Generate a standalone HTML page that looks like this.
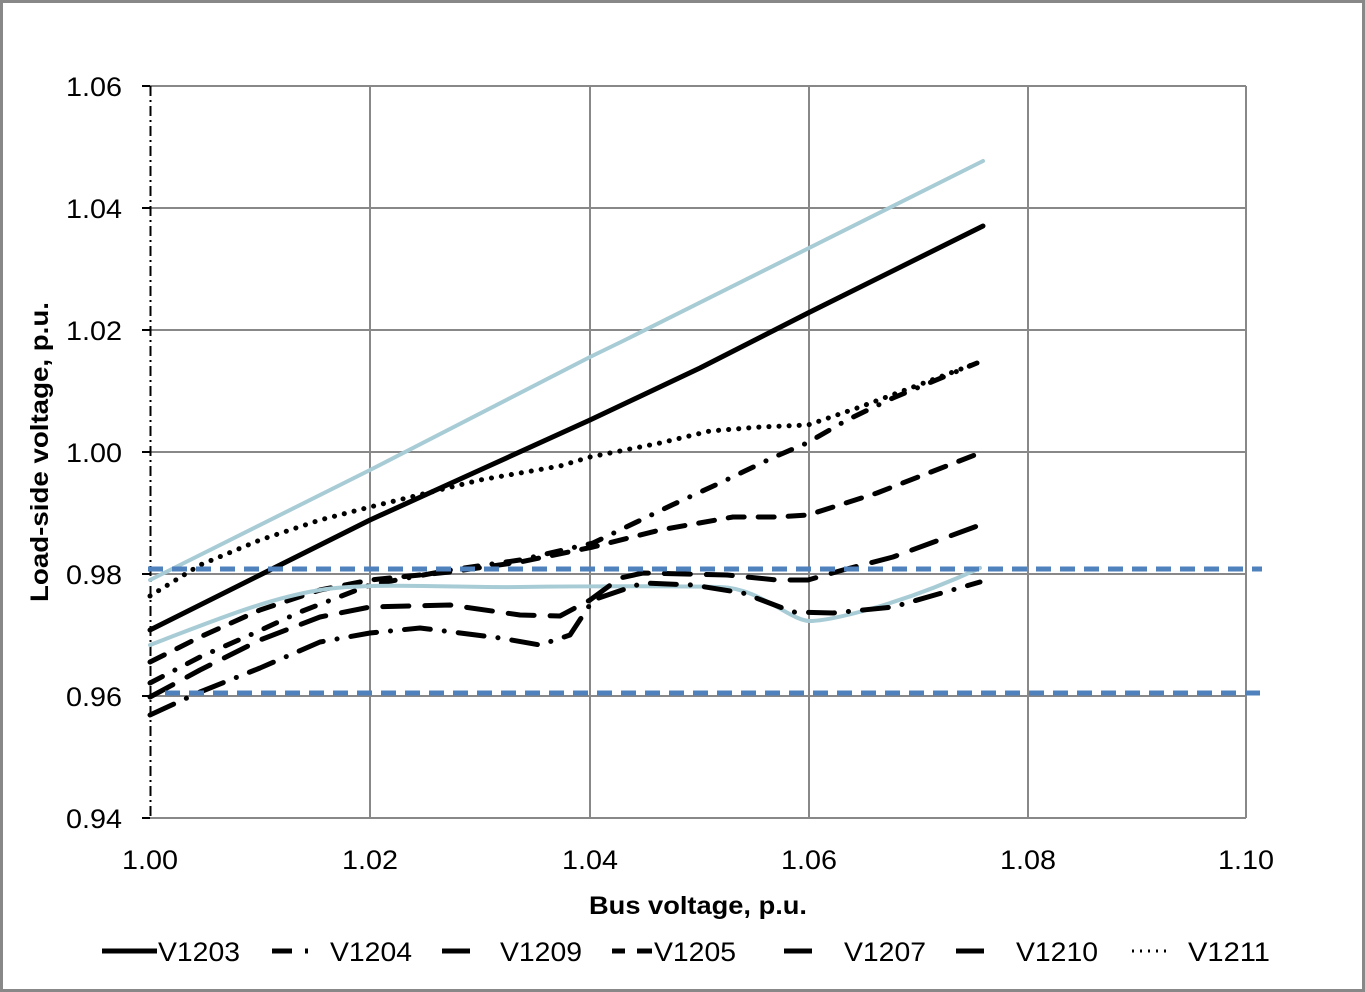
<!DOCTYPE html>
<html><head><meta charset="utf-8"><style>
html,body{margin:0;padding:0;background:#fff;}
svg{display:block;}
text{font-family:"Liberation Sans",sans-serif;fill:#000;}
</style></head><body>
<svg width="1365" height="992" viewBox="0 0 1365 992" xmlns="http://www.w3.org/2000/svg">
<rect x="1.5" y="1.5" width="1362" height="989" fill="#fff" stroke="#888" stroke-width="3"/>
<g stroke="#888" stroke-width="2">
<line x1="150" y1="86" x2="1246" y2="86"/>
<line x1="150" y1="208" x2="1246" y2="208"/>
<line x1="150" y1="330" x2="1246" y2="330"/>
<line x1="150" y1="452" x2="1246" y2="452"/>
<line x1="150" y1="574" x2="1246" y2="574"/>
<line x1="150" y1="696" x2="1246" y2="696"/>
<line x1="150" y1="818" x2="1246" y2="818"/>
<line x1="370" y1="86" x2="370" y2="818"/>
<line x1="590" y1="86" x2="590" y2="818"/>
<line x1="809" y1="86" x2="809" y2="818"/>
<line x1="1028" y1="86" x2="1028" y2="818"/>
<line x1="1246" y1="86" x2="1246" y2="818"/>
</g>
<line x1="150.5" y1="86" x2="150.5" y2="818" stroke="#000" stroke-width="2" stroke-dasharray="10,4,2,4"/>
<g stroke="#000" stroke-width="2">
<line x1="142" y1="86" x2="150" y2="86"/><line x1="142" y1="208" x2="150" y2="208"/>
<line x1="142" y1="330" x2="150" y2="330"/><line x1="142" y1="452" x2="150" y2="452"/>
<line x1="142" y1="574" x2="150" y2="574"/><line x1="142" y1="696" x2="150" y2="696"/>
<line x1="142" y1="818" x2="150" y2="818"/>
</g>
<g font-size="27" text-anchor="end">
<text x="122" y="96" textLength="56" lengthAdjust="spacingAndGlyphs">1.06</text>
<text x="122" y="218" textLength="56" lengthAdjust="spacingAndGlyphs">1.04</text>
<text x="122" y="340" textLength="56" lengthAdjust="spacingAndGlyphs">1.02</text>
<text x="122" y="462" textLength="56" lengthAdjust="spacingAndGlyphs">1.00</text>
<text x="122" y="584" textLength="56" lengthAdjust="spacingAndGlyphs">0.98</text>
<text x="122" y="706" textLength="56" lengthAdjust="spacingAndGlyphs">0.96</text>
<text x="122" y="828" textLength="56" lengthAdjust="spacingAndGlyphs">0.94</text>
</g>
<g font-size="27" text-anchor="middle">
<text x="150" y="869" textLength="56" lengthAdjust="spacingAndGlyphs">1.00</text>
<text x="370" y="869" textLength="56" lengthAdjust="spacingAndGlyphs">1.02</text>
<text x="590" y="869" textLength="56" lengthAdjust="spacingAndGlyphs">1.04</text>
<text x="809" y="869" textLength="56" lengthAdjust="spacingAndGlyphs">1.06</text>
<text x="1028" y="869" textLength="56" lengthAdjust="spacingAndGlyphs">1.08</text>
<text x="1246" y="869" textLength="56" lengthAdjust="spacingAndGlyphs">1.10</text>
</g>
<text x="698" y="914" font-size="25" font-weight="bold" text-anchor="middle" textLength="218" lengthAdjust="spacingAndGlyphs">Bus voltage, p.u.</text>
<text transform="translate(48,452) rotate(-90)" font-size="25" font-weight="bold" text-anchor="middle" textLength="300" lengthAdjust="spacingAndGlyphs">Load-side voltage, p.u.</text>

<g fill="none" stroke-linecap="round" stroke-linejoin="round">
<polyline stroke="#a8ccd6" stroke-width="4" points="150,580 370,470 590,357 625,340 983,161"/>
<polyline stroke="#000" stroke-width="5" points="150,630 260,575 370,520 480,470 590,420 700,368 808,313 983,226"/>
<polyline stroke="#000" stroke-width="5" stroke-dasharray="0.1,10" points="150,596 200,565 260,540 320,520 370,507 480,480 560,466 590,457 660,443 710,431 760,427 808,425 860,407 977,363"/>
<polyline stroke="#000" stroke-width="5" stroke-dasharray="14,14,0.1,14" points="150,683 200,657 250,635 300,612 370,585 450,570 520,560 593,543 672,505 722,482 772,458 807,443 847,420 893,398 977,363"/>
<polyline stroke="#000" stroke-width="5" stroke-dasharray="16,14" points="150,662 200,637 260,610 320,590 370,580 450,572 520,562 593,547 660,530 733,517 777,517 808,515 877,493 980,453"/>
<path stroke="#a8ccd6" stroke-width="4" d="M150,645 C220,618 270,598 320,590 S450,588 520,587 S680,586 720,587 S790,621 810,621 S900,605 980,568"/>
<polyline stroke="#000" stroke-width="5" stroke-dasharray="26,16" points="150,697 200,670 260,640 320,617 370,607 450,605 520,615 560,616 590,600 620,578 643,573 727,575 777,580 808,580 843,570 893,557 980,525"/>
<polyline stroke="#000" stroke-width="5" stroke-dasharray="26,14,0.1,14" points="150,715 200,692 260,668 320,642 370,633 420,628 500,638 540,645 570,635 593,600 643,583 693,585 743,593 793,612 833,613 893,607 980,582"/>
</g>
<g stroke="#4f81bd" stroke-width="5" stroke-dasharray="15,9">
<line x1="148" y1="569" x2="1262" y2="569"/>
<line x1="165" y1="693" x2="1262" y2="693"/>
</g>
<g stroke="#000" stroke-width="5" fill="none">
<line x1="102" y1="951" x2="157" y2="951"/>
<line x1="272" y1="951" x2="292" y2="951"/><line x1="305" y1="951" x2="308" y2="951"/>
<line x1="442" y1="951" x2="470" y2="951"/>
<line x1="612" y1="951" x2="625" y2="951"/><line x1="637" y1="951" x2="652" y2="951"/>
<line x1="784" y1="951" x2="812" y2="951"/>
<line x1="956" y1="951" x2="984" y2="951"/>
<line x1="1132" y1="951" x2="1170" y2="951" stroke-dasharray="2,6" stroke-width="3"/>
</g>
<g font-size="27">
<text x="158" y="961" textLength="82" lengthAdjust="spacingAndGlyphs">V1203</text>
<text x="330" y="961" textLength="82" lengthAdjust="spacingAndGlyphs">V1204</text>
<text x="500" y="961" textLength="82" lengthAdjust="spacingAndGlyphs">V1209</text>
<text x="654" y="961" textLength="82" lengthAdjust="spacingAndGlyphs">V1205</text>
<text x="844" y="961" textLength="82" lengthAdjust="spacingAndGlyphs">V1207</text>
<text x="1016" y="961" textLength="82" lengthAdjust="spacingAndGlyphs">V1210</text>
<text x="1188" y="961" textLength="82" lengthAdjust="spacingAndGlyphs">V1211</text>
</g>
</svg>
</body></html>
